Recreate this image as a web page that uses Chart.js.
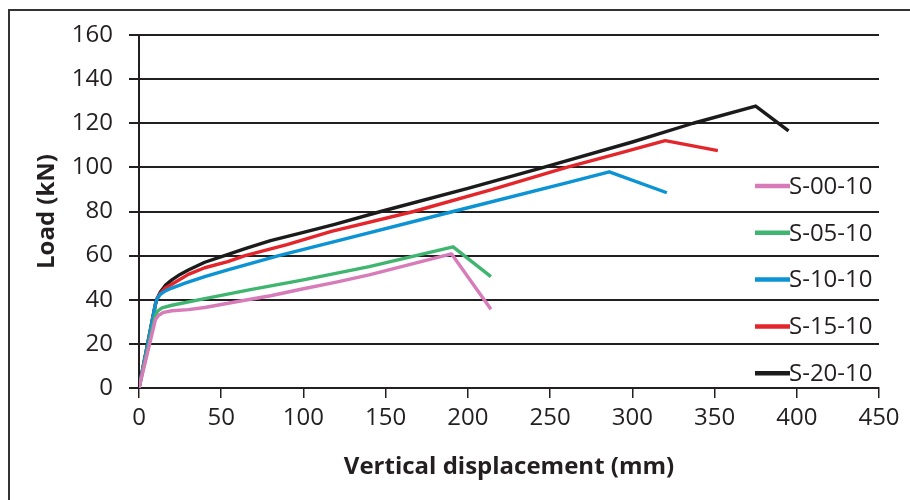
<!DOCTYPE html>
<html>
<head>
<meta charset="utf-8">
<script src="https://cdn.jsdelivr.net/npm/chart.js@4.4.1/dist/chart.umd.min.js"></script>
<style>
  html, body { margin: 0; padding: 0; background: #fff; }
  #wrap { position: relative; width: 910px; height: 500px; }
</style>
</head>
<body>
<div id="wrap"><canvas id="c" width="910" height="500"></canvas></div>
<script>
// Load–displacement curves, one pair of arrays per specimen
const seriesNames = ['S-00-10', 'S-05-10', 'S-10-10', 'S-15-10', 'S-20-10'];

const s0010X = [0, 10, 12, 15, 20, 30, 40, 60, 80, 100, 120, 140, 165, 190, 214];
const s0010Y = [0, 31, 33, 34.3, 35, 35.5, 36.5, 39.2, 41.8, 45, 48, 51.3, 56, 60.8, 35.7];

const s0510X = [0, 10, 11.5, 14, 20, 40, 67, 100, 140, 191, 214];
const s0510Y = [0, 33, 35, 36.3, 37.5, 40.5, 44.5, 49, 55, 64, 50.5];

const s1010X = [0, 10, 11, 13, 16, 20, 28, 40, 54, 85, 117, 191, 260, 286, 321];
const s1010Y = [0, 38, 40.5, 42.5, 44, 45.3, 47.5, 50.5, 53.5, 60, 66, 80, 93, 98, 88.5];

const s1510X = [0, 10, 11, 13, 16, 20, 30, 40, 54, 64.5, 90, 117, 167, 215, 260, 290, 320, 352];
const s1510Y = [0, 38, 40.5, 43, 45.3, 47, 51.5, 54.5, 57.3, 60, 65, 71, 80, 90, 100, 106, 112.1, 107.6];

const s2010X = [0, 10, 11, 13, 16, 20, 25, 30, 40, 52, 65, 80, 100, 119, 147, 200, 246, 300, 337, 375, 395];
const s2010Y = [0, 38, 40.5, 43.5, 46.5, 49, 51.5, 53.5, 57, 60, 63.3, 66.8, 70.5, 74.2, 80, 90.5, 100, 111.5, 120, 127.8, 116.5];

const xTicks = [0, 50, 100, 150, 200, 250, 300, 350, 400, 450];
const yTicks = [0, 20, 40, 60, 80, 100, 120, 140, 160];

const seriesColors = ['#d87bb9', '#3fb56f', '#0b93d3', '#e3262b', '#1b1b1b'];

const xs = [s0010X, s0510X, s1010X, s1510X, s2010X];
const ys = [s0010Y, s0510Y, s1010Y, s1510Y, s2010Y];

const FONT = "'Open Sans', sans-serif";
const INK = '#231f20';

function toPoints(xArr, yArr) {
  return xArr.map((x, i) => ({ x: x, y: yArr[i] }));
}

const datasets = seriesNames.map((name, i) => ({
  label: name,
  data: toPoints(xs[i], ys[i]),
  borderColor: seriesColors[i],
  backgroundColor: seriesColors[i],
  borderWidth: 3.4,
  pointRadius: 0,
  showLine: true,
  fill: false,
  tension: 0,
  borderCapStyle: 'butt',
  borderJoinStyle: 'round'
}));

// Outer frame around the figure
const framePlugin = {
  id: 'frame',
  beforeDraw(chart) {
    const ctx = chart.ctx;
    ctx.save();
    ctx.fillStyle = '#fff';
    ctx.fillRect(0, 0, chart.width, chart.height);
    ctx.strokeStyle = '#333';
    ctx.lineWidth = 2;
    ctx.beginPath();
    ctx.moveTo(9, chart.height + 5);
    ctx.lineTo(9, 10);
    ctx.lineTo(chart.width + 5, 10);
    ctx.stroke();
    ctx.restore();
  }
};

// Legend stacked inside the plot, near the right edge
const insideLegend = {
  id: 'insideLegend',
  afterDatasetsDraw(chart) {
    const ctx = chart.ctx;
    const area = chart.chartArea;
    const x0 = area.right - 124;
    const y0 = 186;
    const step = 46.8;
    ctx.save();
    ctx.font = "24px " + FONT;
    ctx.textBaseline = 'middle';
    ctx.textAlign = 'left';
    chart.data.datasets.forEach((ds, i) => {
      const y = y0 + i * step;
      ctx.strokeStyle = ds.borderColor;
      ctx.lineWidth = 4.5;
      ctx.beginPath();
      ctx.moveTo(x0, y);
      ctx.lineTo(x0 + 35, y);
      ctx.stroke();
      ctx.fillStyle = INK;
      ctx.fillText(ds.label, x0 + 34, y + 1);
    });
    ctx.restore();
  }
};

new Chart(document.getElementById('c'), {
  type: 'scatter',
  data: { datasets: datasets },
  plugins: [framePlugin, insideLegend],
  options: {
    responsive: false,
    animation: false,
    events: [],
    layout: { padding: { top: 35, right: 31, bottom: 0, left: 0 } },
    plugins: {
      legend: { display: false },
      tooltip: { enabled: false }
    },
    scales: {
      x: {
        type: 'linear',
        min: 0,
        max: 450,
        afterFit(scale) { scale.height = 112; },
        afterBuildTicks(scale) { scale.ticks = xTicks.map(v => ({ value: v })); },
        border: { display: true, color: INK, width: 2 },
        grid: { drawOnChartArea: false, drawTicks: true, tickLength: 10, color: INK, lineWidth: 1.5 },
        ticks: { color: INK, padding: 6, font: { family: FONT, size: 24 }, maxRotation: 0 },
        title: {
          display: true,
          text: 'Vertical displacement (mm)',
          color: INK,
          font: { family: FONT, size: 24, weight: 'bold' },
          padding: { top: 0, bottom: 18 }
        }
      },
      y: {
        type: 'linear',
        min: 0,
        max: 160,
        afterFit(scale) { scale.width = 139; },
        afterBuildTicks(scale) { scale.ticks = yTicks.map(v => ({ value: v })); },
        border: { display: true, color: INK, width: 2 },
        grid: { drawOnChartArea: true, drawTicks: true, tickLength: 10, color: INK, lineWidth: 2 },
        ticks: { color: INK, padding: 16, font: { family: FONT, size: 24 } },
        title: {
          display: true,
          text: 'Load (kN)',
          color: INK,
          font: { family: FONT, size: 24, weight: 'bold' },
          padding: { top: 33, bottom: 0 }
        }
      }
    }
  }
});
</script>
</body>
</html>
